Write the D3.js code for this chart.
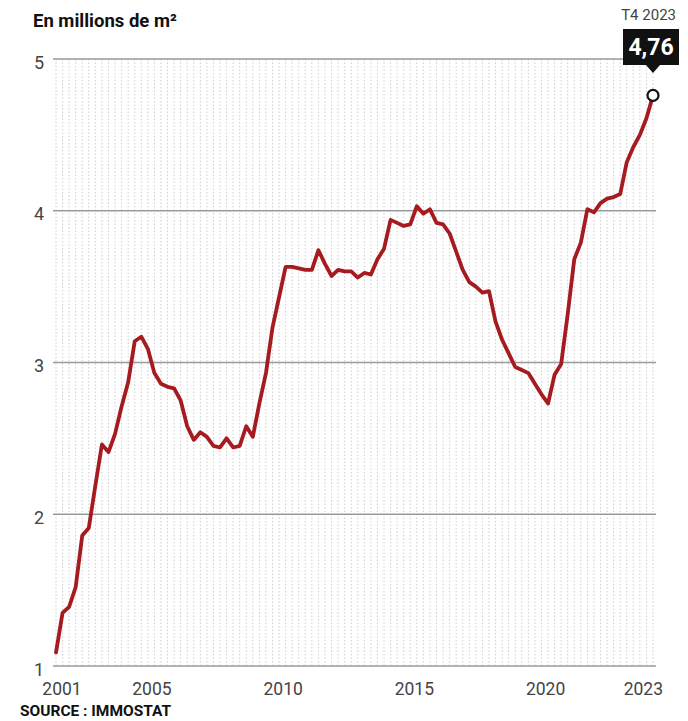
<!DOCTYPE html>
<html>
<head>
<meta charset="utf-8">
<title>Surfaces en millions de m2</title>
<script src="https://cdnjs.cloudflare.com/ajax/libs/d3/7.8.5/d3.min.js"></script>
<style>
  body { margin: 0; background: #fff; }
  svg text { font-family: Roboto, "Noto Sans", sans-serif; }
</style>
</head>
<body>
<script>
// quarterly series, T1 2001 .. T4 2023
var years = d3.range(2001, 2024);
var quarters = [];
years.forEach(function (y) {
    ["T1", "T2", "T3", "T4"].forEach(function (q) { quarters.push(q + " " + y); });
});

var values = [
    1.09, 1.35, 1.39, 1.52, 1.86, 1.91, 2.19, 2.46, 2.41, 2.53,
    2.71, 2.87, 3.14, 3.17, 3.09, 2.93, 2.86, 2.84, 2.83, 2.75,
    2.58, 2.49, 2.54, 2.51, 2.45, 2.44, 2.50, 2.44, 2.45, 2.58,
    2.51, 2.73, 2.93, 3.23, 3.43, 3.63, 3.63, 3.62, 3.61, 3.61,
    3.74, 3.65, 3.57, 3.61, 3.60, 3.60, 3.56, 3.59, 3.58, 3.68,
    3.75, 3.94, 3.92, 3.90, 3.91, 4.03, 3.98, 4.01, 3.92, 3.91,
    3.85, 3.73, 3.61, 3.53, 3.50, 3.46, 3.47, 3.27, 3.15, 3.06,
    2.97, 2.95, 2.93, 2.86, 2.79, 2.73, 2.92, 2.99, 3.32, 3.68,
    3.79, 4.01, 3.99, 4.05, 4.08, 4.09, 4.11, 4.32, 4.42, 4.50,
    4.61, 4.76
];

var yTicks = [1, 2, 3, 4, 5];
var xTickYears = [2001, 2005, 2010, 2015, 2020, 2023];

var width = 688, height = 721;

var svg = d3.select("body").append("svg")
    .attr("width", width)
    .attr("height", height);

var x = d3.scalePoint()
    .domain(quarters)
    .range([56, 653]);

var y = d3.scaleLinear()
    .domain([1, 5])
    .range([666, 59]);

// dotted quarter grid
svg.append("g")
    .selectAll("line")
    .data(quarters)
    .enter().append("line")
    .attr("x1", function (d) { return x(d); })
    .attr("x2", function (d) { return x(d); })
    .attr("y1", y(5))
    .attr("y2", y(1))
    .attr("stroke", "#cfcfcf")
    .attr("stroke-width", 1)
    .attr("stroke-dasharray", "1.5,2");

// horizontal grid
svg.append("g")
    .selectAll("line")
    .data(yTicks)
    .enter().append("line")
    .attr("x1", 53)
    .attr("x2", 656)
    .attr("y1", function (d) { return y(d); })
    .attr("y2", function (d) { return y(d); })
    .attr("stroke", "#9a9a9a")
    .attr("stroke-width", 1.5);

svg.append("g")
    .selectAll("text")
    .data(yTicks)
    .enter().append("text")
    .attr("x", 44)
    .attr("y", function (d) { return y(d) + 9.5; })
    .attr("text-anchor", "end")
    .attr("font-size", 18)
    .attr("fill", "#444")
    .text(function (d) { return d; });

// year labels
svg.append("g")
    .selectAll("text")
    .data(xTickYears)
    .enter().append("text")
    .attr("x", function (d, i) {
        var shift = i === 0 ? 6 : (i === xTickYears.length - 1 ? 10 : -9);
        return x("T1 " + d) + shift;
    })
    .attr("y", 695)
    .attr("text-anchor", "middle")
    .attr("font-size", 17.5)
    .attr("fill", "#444")
    .text(function (d) { return d; });

// line
var line = d3.line()
    .x(function (d, i) { return x(quarters[i]); })
    .y(function (d) { return y(d); });

svg.append("path")
    .datum(values)
    .attr("d", line)
    .attr("fill", "none")
    .attr("stroke", "#a51b20")
    .attr("stroke-width", 3.8)
    .attr("stroke-linejoin", "round")
    .attr("stroke-linecap", "round");

// last point callout
var lastQ = quarters[quarters.length - 1];
var lastV = values[values.length - 1];
var px = x(lastQ), py = y(lastV);

svg.append("circle")
    .attr("cx", px)
    .attr("cy", py)
    .attr("r", 5.5)
    .attr("fill", "#fff")
    .attr("stroke", "#111")
    .attr("stroke-width", 2.2);

svg.append("rect")
    .attr("x", px - 30)
    .attr("y", 29)
    .attr("width", 56)
    .attr("height", 36)
    .attr("fill", "#111");

svg.append("path")
    .attr("d", "M" + (px - 7) + ",65 L" + px + ",73 L" + (px + 7) + ",65 Z")
    .attr("fill", "#111");

svg.append("text")
    .attr("x", px - 2)
    .attr("y", 55)
    .attr("text-anchor", "middle")
    .attr("font-size", 23)
    .attr("font-weight", "bold")
    .attr("fill", "#fff")
    .text(d3.format(".2f")(lastV).replace(".", ","));

svg.append("text")
    .attr("x", 676)
    .attr("y", 20)
    .attr("text-anchor", "end")
    .attr("font-size", 15)
    .attr("fill", "#444")
    .text(lastQ);

// title and source
svg.append("text")
    .attr("x", 33)
    .attr("y", 27)
    .attr("font-size", 18.5)
    .attr("font-weight", "bold")
    .attr("fill", "#111")
    .text("En millions de m²");

svg.append("text")
    .attr("x", 20)
    .attr("y", 716)
    .attr("font-size", 15.5)
    .attr("font-weight", "bold")
    .attr("fill", "#111")
    .text("SOURCE : IMMOSTAT");
</script>
</body>
</html>
